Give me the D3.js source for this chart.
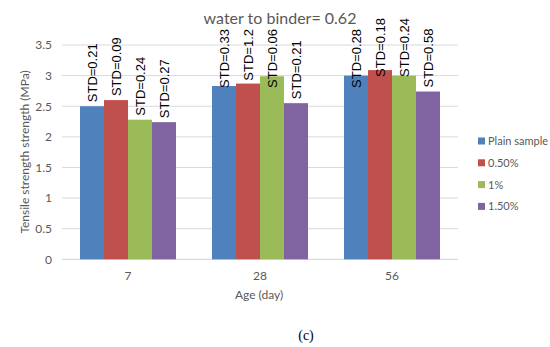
<!DOCTYPE html>
<html>
<head>
<meta charset="utf-8">
<script src="https://cdnjs.cloudflare.com/ajax/libs/d3/7.8.5/d3.min.js"></script>
<style>
  body { margin: 0; background: #fff; }
</style>
</head>
<body>
<div id="chart"></div>
<script>
// chart data
var ages = ['7', '28', '56'];
var seriesNames = ['Plain sample', '0.50%', '1%', '1.50%'];
var plain = [2.50, 2.83, 3.00];
var p050 = [2.60, 2.87, 3.09];
var p100 = [2.28, 2.99, 3.00];
var p150 = [2.24, 2.55, 2.74];
var stdPlain = ['0.21', '0.33', '0.28'];
var std050 = ['0.09', '1.2', '0.18'];
var std100 = ['0.24', '0.06', '0.24'];
var std150 = ['0.27', '0.21', '0.58'];
var yTicks = [0, 0.5, 1, 1.5, 2, 2.5, 3, 3.5];
var colors = ['#4f81bd', '#c0504d', '#9bbb59', '#8064a2'];

(function () {
  var values = [plain, p050, p100, p150];
  var stds = [stdPlain, std050, std100, std150];

  var w = 550, h = 347;
  var mLeft = 62, mRight = 458, mTop = 45, mBottom = 259.3;

  var svg = d3.select('#chart').append('svg')
    .attr('width', w)
    .attr('height', h);

  var x0 = d3.scaleBand().domain(ages).range([mLeft, mRight])
    .paddingInner(36 / 132).paddingOuter(18 / 132);
  var x1 = d3.scaleBand().domain(d3.range(seriesNames.length)).range([0, x0.bandwidth()]);
  var y = d3.scaleLinear().domain([0, 3.5]).range([mBottom, mTop]);

  // gridlines
  svg.append('g').selectAll('line')
    .data(yTicks).enter().append('line')
    .attr('x1', mLeft).attr('x2', mRight)
    .attr('y1', d => y(d)).attr('y2', d => y(d))
    .attr('stroke', d => d === 0 ? '#d0d0d0' : '#d9d9d9')
    .attr('stroke-width', 1);

  // y axis labels
  var yAxis = d3.axisLeft(y).tickValues(yTicks).tickFormat(d => String(d)).tickSize(0).tickPadding(10);
  var ya = svg.append('g').attr('transform', 'translate(' + mLeft + ',0)').call(yAxis);
  ya.select('.domain').remove();
  ya.selectAll('text').attr('fill', '#595959')
    .style('font-family', 'Lato, sans-serif').style('font-size', '12px');

  // x axis labels
  var xAxis = d3.axisBottom(x0).tickSize(0).tickPadding(12);
  var xa = svg.append('g').attr('transform', 'translate(0,' + mBottom + ')').call(xAxis);
  xa.select('.domain').remove();
  xa.selectAll('text').attr('fill', '#595959')
    .style('font-family', 'Lato, sans-serif').style('font-size', '12px');

  // title
  var title = svg.append('text')
    .attr('x', 280).attr('y', 24)
    .attr('text-anchor', 'middle')
    .attr('fill', '#595959')
    .style('font-family', 'Lato, sans-serif').style('font-size', '16px')
    .text('water to binder= 0.62');
  var tb = title.node().getBBox();

  // bars
  var cells = [];
  ages.forEach(function (a, i) {
    values.forEach(function (s, j) {
      cells.push({ age: a, series: j, value: s[i], std: stds[j][i] });
    });
  });

  var groups = svg.selectAll('.bar').data(cells).enter().append('g').attr('class', 'bar');
  groups.append('rect')
    .attr('x', d => x0(d.age) + x1(d.series))
    .attr('y', d => y(d.value))
    .attr('width', x1.bandwidth())
    .attr('height', d => y(0) - y(d.value))
    .attr('fill', d => colors[d.series]);

  // STD labels, rotated, kept inside the chart area and clear of the title
  groups.append('text')
    .text(d => 'STD=' + d.std)
    .style('font-family', '"Liberation Sans", Arial, sans-serif')
    .style('font-size', '13px')
    .attr('fill', '#000')
    .attr('text-anchor', 'start')
    .attr('transform', function (d) {
      var len = this.getComputedTextLength();
      var cx = x0(d.age) + x1(d.series) + x1.bandwidth() / 2;
      var minTop = (cx > tb.x - 6 && cx < tb.x + tb.width + 6) ? tb.y + tb.height + 2 : 18;
      var yb = Math.max(y(d.value) - 4, minTop + len);
      return 'translate(' + (cx + 4.7) + ',' + yb + ') rotate(-90)';
    });

  // axis titles
  svg.append('text')
    .attr('transform', 'translate(29,152) rotate(-90)')
    .attr('text-anchor', 'middle')
    .attr('fill', '#595959')
    .style('font-family', 'Lato, sans-serif').style('font-size', '12px')
    .text('Tensile strength strength (MPa)');

  svg.append('text')
    .attr('x', 259).attr('y', 299)
    .attr('text-anchor', 'middle')
    .attr('fill', '#595959')
    .style('font-family', 'Lato, sans-serif').style('font-size', '12px')
    .text('Age (day)');

  // legend
  var legend = svg.selectAll('.legend').data(seriesNames).enter().append('g')
    .attr('class', 'legend')
    .attr('transform', (d, i) => 'translate(478,' + (141 + i * 21.8) + ')');
  legend.append('rect')
    .attr('x', 0).attr('y', -3.5).attr('width', 7).attr('height', 7)
    .attr('fill', (d, i) => colors[i]);
  legend.append('text')
    .attr('x', 10).attr('y', 4)
    .attr('fill', '#595959')
    .style('font-family', 'Lato, sans-serif').style('font-size', '11px')
    .text(d => d);

  // caption
  svg.append('text')
    .attr('x', 306).attr('y', 340)
    .attr('text-anchor', 'middle')
    .attr('fill', '#000')
    .style('font-family', '"Liberation Serif", "Times New Roman", serif').style('font-size', '14px')
    .text('(c)');
})();
</script>
</body>
</html>
